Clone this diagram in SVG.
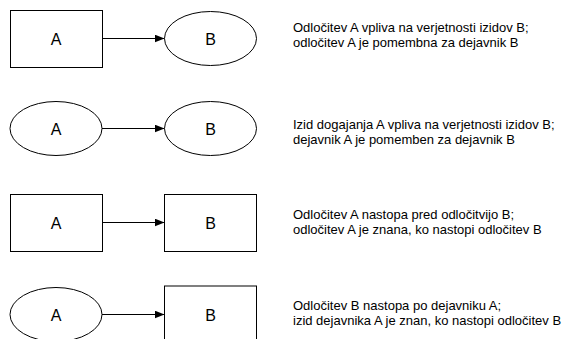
<svg xmlns="http://www.w3.org/2000/svg" width="567" height="339" viewBox="0 0 567 339">
<style>
.n{fill:#fff;stroke:#000;stroke-width:1}
.lbl{font-family:"Liberation Sans",Arial,sans-serif;font-size:16px;fill:#000;text-anchor:middle}
.t{font-family:"Liberation Sans",Arial,sans-serif;font-size:13px;fill:#000}
.c{stroke:#000;stroke-width:1;fill:none;marker-end:url(#ah)}
</style>
<defs>
<marker id="ah" markerWidth="10" markerHeight="8" refX="10" refY="4" orient="auto" markerUnits="userSpaceOnUse">
<path d="M0,0 L10,4 L0,8 Z" fill="#000"/>
</marker>
</defs>
<rect width="567" height="339" fill="#fff"/>
<g id="connectors">
<line class="c" x1="102" y1="38.5" x2="164.5" y2="38.5"/>
<line class="c" x1="102" y1="128.5" x2="164.5" y2="128.5"/>
<line class="c" x1="102" y1="222.5" x2="164.5" y2="222.5"/>
<line class="c" x1="102" y1="314.5" x2="164.5" y2="314.5"/>
</g>
<g id="r1a"><rect class="n" x="10.5" y="10.5" width="92" height="57"/><text class="lbl" x="56" y="44.5">A</text></g>
<g id="r1b"><ellipse class="n" cx="210.5" cy="38.5" rx="46" ry="27"/><text class="lbl" x="210.5" y="44.5">B</text></g>
<g id="r2a"><ellipse class="n" cx="56" cy="128.5" rx="46" ry="27"/><text class="lbl" x="56" y="134.5">A</text></g>
<g id="r2b"><ellipse class="n" cx="210.5" cy="128.5" rx="46" ry="27"/><text class="lbl" x="210.5" y="134.5">B</text></g>
<g id="r3a"><rect class="n" x="10.5" y="194.5" width="92" height="57"/><text class="lbl" x="56" y="228.5">A</text></g>
<g id="r3b"><rect class="n" x="164.5" y="194.5" width="92" height="57"/><text class="lbl" x="210.5" y="228.5">B</text></g>
<g id="r4a"><ellipse class="n" cx="56" cy="314.5" rx="46" ry="27"/><text class="lbl" x="56" y="320.5">A</text></g>
<g id="r4b"><rect class="n" x="164.5" y="286" width="92" height="57"/><text class="lbl" x="210.5" y="320.5">B</text></g>
<g id="desc1"><text class="t" x="293" y="32">Odločitev A vpliva na verjetnosti izidov B;</text><text class="t" x="293" y="47">odločitev A je pomembna za dejavnik  B</text></g>
<g id="desc2"><text class="t" x="293" y="129">Izid dogajanja A vpliva na verjetnosti izidov B;</text><text class="t" x="293" y="144">dejavnik A je pomemben za dejavnik B</text></g>
<g id="desc3"><text class="t" x="293" y="219">Odločitev A nastopa pred odločitvijo B;</text><text class="t" x="293" y="234">odločitev A je znana, ko nastopi odločitev B</text></g>
<g id="desc4"><text class="t" x="293" y="310">Odločitev B nastopa po dejavniku A;</text><text class="t" x="293" y="325">izid dejavnika A je znan, ko nastopi odločitev B</text></g>
</svg>
